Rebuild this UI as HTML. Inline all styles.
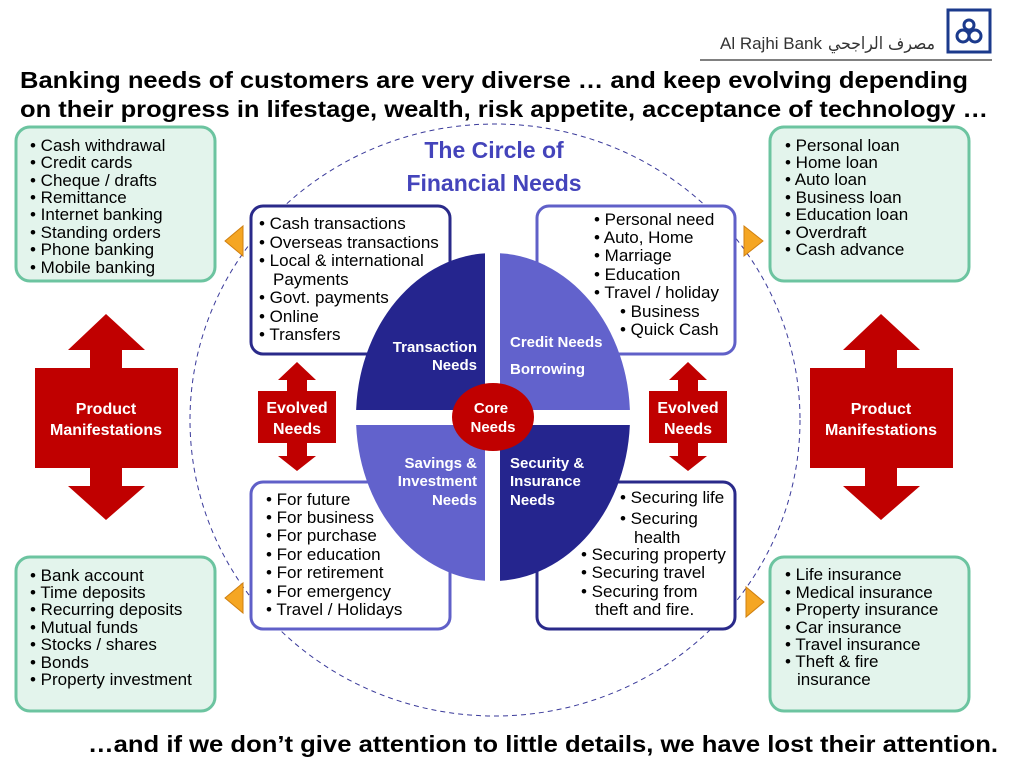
<!DOCTYPE html>
<html><head><meta charset="utf-8"><style>
body{margin:0;background:#fff;width:1024px;height:768px;overflow:hidden}
svg{display:block;font-family:"Liberation Sans",Arial,sans-serif}
.t{font-size:17px;fill:#000}
.w{font-weight:bold;fill:#fff;font-size:15px}
.w2{font-weight:bold;fill:#fff;font-size:16px}
</style></head><body>
<svg width="1024" height="768" viewBox="0 0 1024 768">
<line x1="700" y1="60" x2="992" y2="60" stroke="#000" stroke-width="1"/>
<text x="720" y="49" font-size="17" fill="#333" textLength="102" lengthAdjust="spacingAndGlyphs">Al Rajhi Bank</text>
<text x="828" y="49" font-size="17" fill="#333" font-family="'DejaVu Sans',sans-serif" textLength="107" lengthAdjust="spacingAndGlyphs">مصرف الراجحي</text>
<rect x="948" y="10" width="42" height="42" fill="#fff" stroke="#1b3a8c" stroke-width="3"/>
<circle cx="963" cy="36" r="6" fill="none" stroke="#1b3a8c" stroke-width="3"/>
<circle cx="975" cy="36" r="6" fill="none" stroke="#1b3a8c" stroke-width="3"/>
<circle cx="969" cy="25" r="5" fill="none" stroke="#1b3a8c" stroke-width="3"/>
<text x="20" y="88" font-size="23" font-weight="bold" textLength="948" lengthAdjust="spacingAndGlyphs">Banking needs of customers are very diverse … and keep evolving depending</text>
<text x="20" y="117" font-size="23" font-weight="bold" textLength="968" lengthAdjust="spacingAndGlyphs">on their progress in lifestage, wealth, risk appetite, acceptance of technology …</text>
<ellipse cx="495" cy="420" rx="305" ry="296" fill="none" stroke="#3a3a9a" stroke-width="1" stroke-dasharray="5,4"/>
<text x="494" y="158" font-size="23" font-weight="bold" fill="#4444bb" text-anchor="middle">The Circle of</text>
<text x="494" y="191" font-size="23" font-weight="bold" fill="#4444bb" text-anchor="middle">Financial Needs</text>
<g fill="#e3f4ec" stroke="#6cc4a0" stroke-width="3">
<rect x="16" y="127" width="199" height="154" rx="14"/>
<rect x="770" y="127" width="199" height="154" rx="14"/>
<rect x="16" y="557" width="199" height="154" rx="14"/>
<rect x="770" y="557" width="199" height="154" rx="14"/>
</g>
<g class="t">
<text x="30" y="151">• Cash withdrawal</text><text x="30" y="168">• Credit cards</text><text x="30" y="186">• Cheque / drafts</text><text x="30" y="203">• Remittance</text><text x="30" y="220">• Internet banking</text><text x="30" y="238">• Standing  orders</text><text x="30" y="255">• Phone banking</text><text x="30" y="273">• Mobile banking</text>
<text x="785" y="151">• Personal loan</text><text x="785" y="168">• Home loan</text><text x="785" y="185">• Auto loan</text><text x="785" y="203">• Business loan</text><text x="785" y="220">• Education loan</text><text x="785" y="238">• Overdraft</text><text x="785" y="255">• Cash advance</text>
<text x="30" y="581">• Bank account</text><text x="30" y="598">• Time deposits</text><text x="30" y="615">• Recurring deposits</text><text x="30" y="633">• Mutual funds</text><text x="30" y="650">• Stocks / shares</text><text x="30" y="668">• Bonds</text><text x="30" y="685">• Property investment</text>
<text x="785" y="580">• Life insurance</text><text x="785" y="598">• Medical insurance</text><text x="785" y="615">• Property insurance</text><text x="785" y="633">• Car insurance</text><text x="785" y="650">• Travel insurance</text><text x="785" y="667">• Theft &amp; fire</text><text x="797" y="685">insurance</text>
</g>
<g fill="#f5a623" stroke="#d08010" stroke-width="1">
<polygon points="243,226 243,256 225,241"/>
<polygon points="744,226 744,256 763,241"/>
<polygon points="243,583 243,613 225,598"/>
<polygon points="746,587 746,617 764,602"/>
</g>
<g fill="#fff" stroke-width="3">
<rect x="251" y="206" width="199" height="148" rx="12" stroke="#2a2a8a"/>
<rect x="537" y="206" width="198" height="148" rx="12" stroke="#6060c8"/>
<rect x="251" y="482" width="199" height="147" rx="12" stroke="#6060c8"/>
<rect x="537" y="482" width="198" height="147" rx="12" stroke="#2a2a8a"/>
</g>
<g class="t">
<text x="259" y="229">• Cash transactions</text><text x="259" y="248">• Overseas transactions</text><text x="259" y="266">• Local &amp; international</text><text x="273" y="285">Payments</text><text x="259" y="303">• Govt. payments</text><text x="259" y="322">• Online</text><text x="259" y="340">• Transfers</text>
<text x="594" y="225">• Personal need</text><text x="594" y="243">• Auto, Home</text><text x="594" y="261">• Marriage</text><text x="594" y="280">• Education</text><text x="594" y="298">• Travel / holiday</text><text x="620" y="317">• Business</text><text x="620" y="335">• Quick Cash</text>
<text x="266" y="505">• For future</text><text x="266" y="523">• For business</text><text x="266" y="541">• For purchase</text><text x="266" y="560">• For education</text><text x="266" y="578">• For retirement</text><text x="266" y="597">• For emergency</text><text x="266" y="615">• Travel / Holidays</text>
<text x="620" y="503">• Securing life</text><text x="620" y="524">• Securing</text><text x="634" y="543">health</text><text x="581" y="560">• Securing property</text><text x="581" y="578">• Securing travel</text><text x="581" y="597">• Securing from</text><text x="595" y="615">theft and fire.</text>
</g>
<defs><clipPath id="e"><ellipse cx="493" cy="417" rx="137" ry="164"/></clipPath></defs>
<g clip-path="url(#e)">
<rect x="350" y="250" width="135" height="160" fill="#25258e"/>
<rect x="500" y="250" width="135" height="160" fill="#6262cc"/>
<rect x="350" y="425" width="135" height="160" fill="#6262cc"/>
<rect x="500" y="425" width="135" height="160" fill="#25258e"/>
</g>
<ellipse cx="493" cy="417" rx="41" ry="34" fill="#c00000"/>
<g class="w">
<text x="477" y="352" text-anchor="end">Transaction</text><text x="477" y="370" text-anchor="end">Needs</text>
<text x="510" y="347">Credit Needs</text><text x="510" y="374">Borrowing</text>
<text x="477" y="468" text-anchor="end">Savings &amp;</text><text x="477" y="486" text-anchor="end">Investment</text><text x="477" y="505" text-anchor="end">Needs</text>
<text x="510" y="468">Security &amp;</text><text x="510" y="486">Insurance</text><text x="510" y="505">Needs</text>
<text x="491" y="413" text-anchor="middle">Core</text><text x="493" y="432" text-anchor="middle">Needs</text>
</g>
<g fill="#c00000">
<polygon points="106,314 145,350 122,350 122,368 178,368 178,468 122,468 122,486 145,486 106,520 68,486 90,486 90,468 35,468 35,368 90,368 90,350 68,350"/>
<polygon points="881,314 920,350 897,350 897,368 953,368 953,468 897,468 897,486 920,486 881,520 843,486 865,486 865,468 810,468 810,368 865,368 865,350 843,350"/>
<polygon points="297,362 316,380 307,380 307,391 336,391 336,443 307,443 307,456 316,456 297,471 278,456 287,456 287,443 258,443 258,391 287,391 287,380 278,380"/>
<polygon points="688,362 707,380 698,380 698,391 727,391 727,443 698,443 698,456 707,456 688,471 669,456 678,456 678,443 649,443 649,391 678,391 678,380 669,380"/>
</g>
<g class="w2" text-anchor="middle">
<text x="106" y="414">Product</text><text x="106" y="435">Manifestations</text>
<text x="881" y="414">Product</text><text x="881" y="435">Manifestations</text>
<text x="297" y="413">Evolved</text><text x="297" y="434">Needs</text>
<text x="688" y="413">Evolved</text><text x="688" y="434">Needs</text>
</g>
<text x="88" y="752" font-size="23" font-weight="bold" textLength="910" lengthAdjust="spacingAndGlyphs">…and if we don’t give attention to little details, we have lost their attention.</text>
</svg>
</body></html>
